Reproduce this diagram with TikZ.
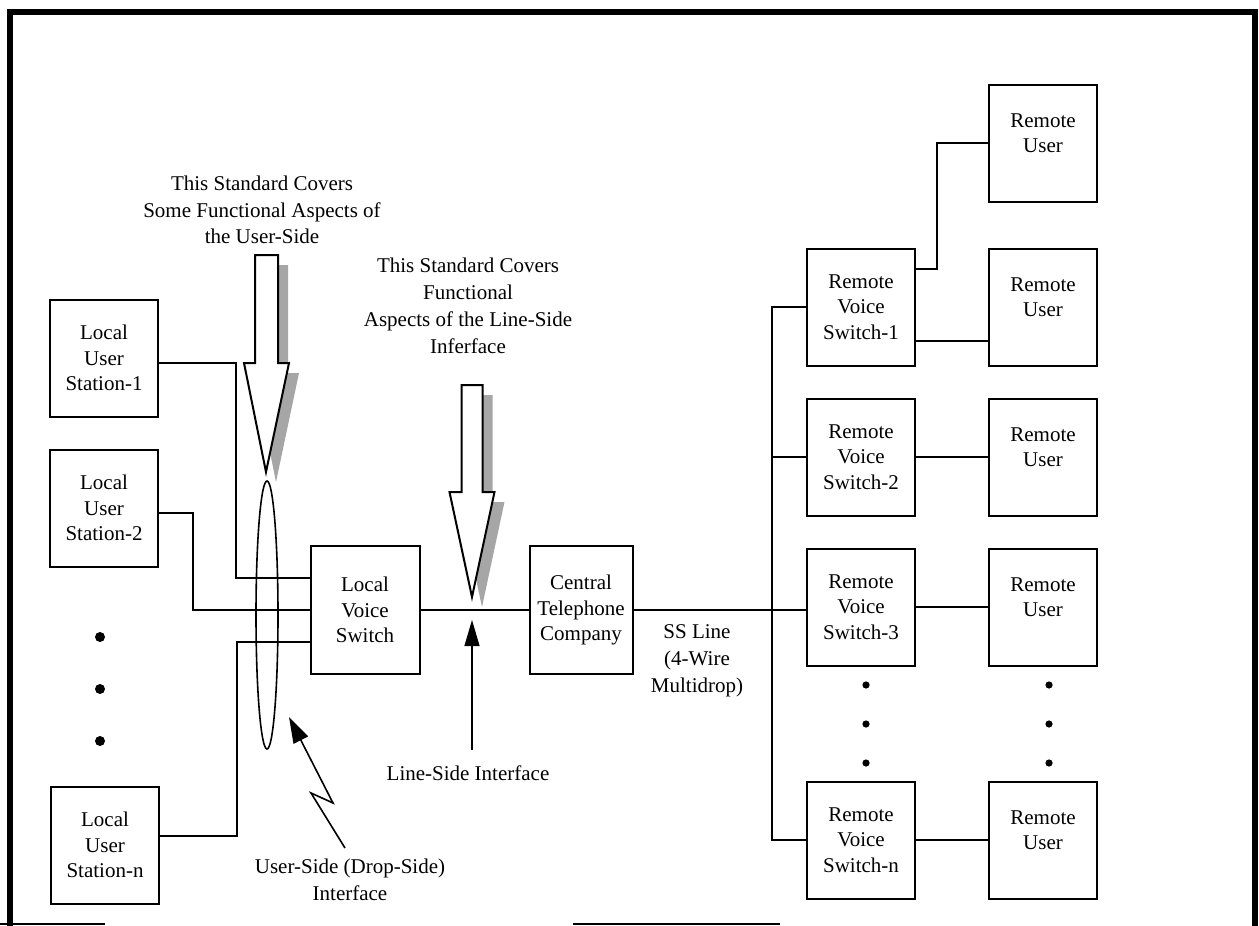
\documentclass[tikz,border=0pt]{standalone}
\usepackage{fontspec}
\setmainfont{Liberation Serif}
\usepackage{tikz}
\usetikzlibrary{arrows.meta}

\begin{document}
\begin{tikzpicture}[x = 0.5pt, y = -0.5pt,
        box/.style = {draw, line width = 1pt, minimum width = 54pt, minimum height = 58.5pt,
            align = center, inner sep = 0pt, font = \fontsize{10.5}{12.8}\selectfont},
        tallbox/.style = {box, minimum height = 64pt},
        wire/.style = {line width = 0.6pt},
        lbl/.style = {align = center, font = \fontsize{10.5}{13.4}\selectfont},
        bigarrow/.style = {draw, fill = white, line width = 1pt},
        shade/.style = {fill = black!35}]
        \useasboundingbox (0, 0) rectangle (1259, 926);

        \draw[line width = 3pt] (10, 926) -- (10, 12) -- (1255, 12) -- (1255, 926);
        \draw[line width = 0.8pt] (0, 924) -- (105, 924);
        \draw[line width = 1pt] (573, 924) -- (780, 924);

        \node[box] (ls1) at (104, 358) {Local\\User\\Station-1};
        \node[box] (ls2) at (104, 508) {Local\\User\\Station-2};
        \node[box] (lsn) at (105, 845) {Local\\User\\Station-n};
        \node[tallbox, minimum width = 54.5pt] (lvs) at (365, 610) {Local\\Voice\\Switch};
        \node[tallbox, minimum width = 51.5pt] (ctc) at (581, 610) {Central\\Telephone\\Company};

        \node[box] (rvs1) at (861, 307) {Remote\\Voice\\Switch-1};
        \node[box] (rvs2) at (861, 457) {Remote\\Voice\\Switch-2};
        \node[box] (rvs3) at (861, 607) {Remote\\Voice\\Switch-3};
        \node[box] (rvsn) at (861, 840) {Remote\\Voice\\Switch-n};
        \node[box] (ru0) at (1043, 143) {Remote\\User\\[-2.8pt]\mbox{}};
        \node[box] (ru1) at (1043, 307) {Remote\\User\\[-2.8pt]\mbox{}};
        \node[box] (ru2) at (1043, 457) {Remote\\User\\[-2.8pt]\mbox{}};
        \node[box] (ru3) at (1043, 607) {Remote\\User\\[-2.8pt]\mbox{}};
        \node[box] (run) at (1043, 840) {Remote\\User\\[-2.8pt]\mbox{}};

        \draw[wire] ([yshift = -2.5pt]ls1.east) -- ++(77, 0) |- ([yshift = 16pt]lvs.west);
        \draw[wire] ([yshift = -2.5pt]ls2.east) -- ++(34, 0) |- (lvs.west);
        \draw[wire] ([yshift = 4.5pt]lsn.east) -- ++(77, 0) |- ([yshift = -16pt]lvs.west);
        \draw[wire] (lvs) -- (ctc);
        \draw[line width = 1.1pt] (ctc.east) -- (ctc.east -| rvs3.west);

        \draw[wire] (rvs1.west) -- ++(-34, 0) coordinate (bus) |- (rvsn.west);
        \draw[wire] (rvs2.west) -- (rvs2.west -| bus);
        \draw[wire] ([yshift = 19pt]rvs1.east) -- ++(21, 0) |- (ru0.west);
        \draw[line width = 1.1pt] ([yshift = 19pt]rvs1.east) -- ++(21, 0);
        \draw[wire] ([yshift = -17pt]rvs1.east) -- ([yshift = -17pt]ru1.west);
        \draw[wire] (rvs2) -- (ru2);
        \draw[wire] (rvs3) -- (ru3);
        \draw[wire] (rvsn) -- (run);

        \draw[line width = 0.8pt] (267, 615) ellipse [x radius = 5.5pt, y radius = 67pt];

        \fill[shade, shift = {(10, 10)}] (255, 255) -- (278, 255) -- (278, 363) -- (289, 363)
            -- (266, 472) -- (244, 363) -- (255, 363) -- cycle;
        \filldraw[bigarrow] (255, 255) -- (278, 255) -- (278, 363) -- (289, 363)
            -- (266, 472) -- (244, 363) -- (255, 363) -- cycle;
        \fill[shade, shift = {(10, 10)}] (461.5, 385) -- (482.5, 385) -- (482.5, 492) -- (494.5, 492)
            -- (472, 597) -- (449.5, 492) -- (461.5, 492) -- cycle;
        \filldraw[bigarrow] (461.5, 385) -- (482.5, 385) -- (482.5, 492) -- (494.5, 492)
            -- (472, 597) -- (449.5, 492) -- (461.5, 492) -- cycle;

        \fill (100, 637) circle (2.5pt);
        \fill (100, 689) circle (2.5pt);
        \fill (100, 741) circle (2.5pt);
        \fill (866, 685) circle (1.8pt);
        \fill (866, 724) circle (1.8pt);
        \fill (866, 763) circle (1.8pt);
        \fill (1049, 685) circle (1.8pt);
        \fill (1049, 724) circle (1.8pt);
        \fill (1049, 763) circle (1.8pt);

        \node[lbl] (uslbl) at (262, 210) {This Standard Covers\\Some Functional Aspects of\\the User-Side};
        \node[lbl] (lslbl) at (468, 306) {This Standard Covers\\Functional\\Aspects of the Line-Side\\Inferface};
        \node[lbl] (sslbl) at (697, 661) {SS Line\\(4-Wire\\Multidrop)};
        \node[lbl] (lsi) at (468, 773) {Line-Side Interface};
        \node[lbl] (usi) at (350, 880) {User-Side (Drop-Side)\\Interface};

        \coordinate (lsitip) at (472, 620);
        \draw[wire, -{Triangle[length = 13pt, width = 7.5pt]}] (lsitip |- 0, 750) -- (lsitip);
        \coordinate (usitip) at (289, 717);
        \draw[line width = 0.8pt, -{Triangle[length = 13pt, width = 8pt]}]
            (345, 848) -- (311, 793) -- (333, 803) -- (usitip);
\end{tikzpicture}
\end{document}
